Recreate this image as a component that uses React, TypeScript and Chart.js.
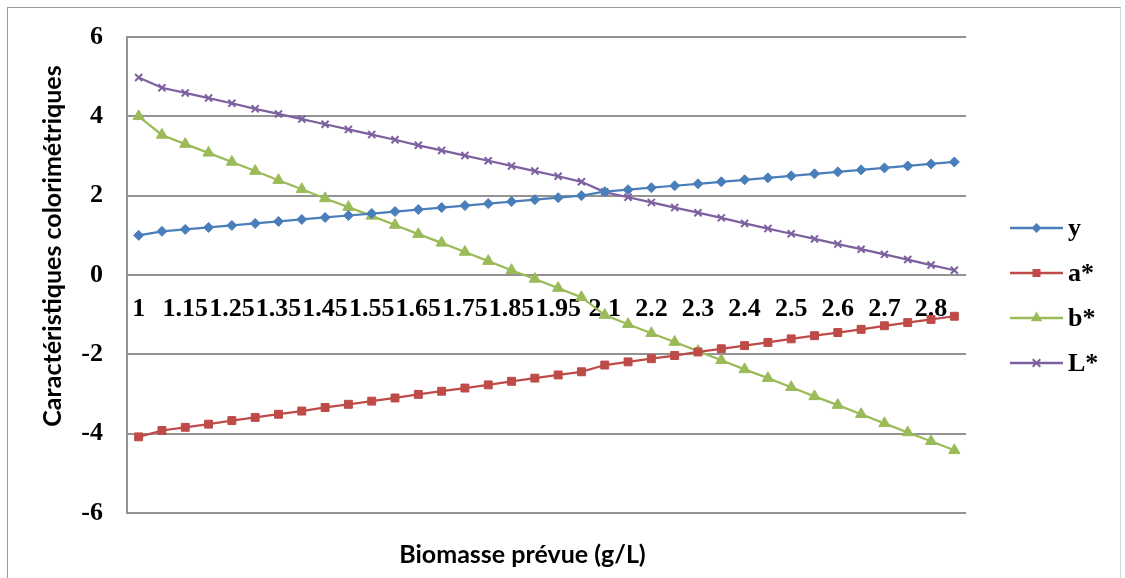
import React, { useEffect, useRef } from 'react';
import { Chart, registerables } from 'chart.js';

Chart.register(...registerables);

// Biomasse prévue (g/L) – category labels
const biomasse = [
  '1', '1.1', '1.15', '1.2', '1.25', '1.3', '1.35', '1.4', '1.45', '1.5',
  '1.55', '1.6', '1.65', '1.7', '1.75', '1.8', '1.85', '1.9', '1.95', '2',
  '2.1', '2.15', '2.2', '2.25', '2.3', '2.35', '2.4', '2.45', '2.5', '2.55',
  '2.6', '2.65', '2.7', '2.75', '2.8', '2.85',
];

const serieY = [
  1, 1.1, 1.15, 1.2, 1.25, 1.3, 1.35, 1.4, 1.45, 1.5,
  1.55, 1.6, 1.65, 1.7, 1.75, 1.8, 1.85, 1.9, 1.95, 2,
  2.1, 2.15, 2.2, 2.25, 2.3, 2.35, 2.4, 2.45, 2.5, 2.55,
  2.6, 2.65, 2.7, 2.75, 2.8, 2.85,
];

const serieA = [
  -4.08, -3.92, -3.84, -3.76, -3.67, -3.59, -3.51, -3.43, -3.34, -3.26,
  -3.18, -3.1, -3.01, -2.93, -2.85, -2.77, -2.68, -2.6, -2.52, -2.44,
  -2.27, -2.19, -2.11, -2.03, -1.94, -1.86, -1.78, -1.7, -1.61, -1.53,
  -1.45, -1.37, -1.28, -1.2, -1.12, -1.04,
];

const serieB = [
  4.0, 3.53, 3.3, 3.08, 2.85, 2.62, 2.39, 2.16, 1.93, 1.71,
  1.49, 1.26, 1.03, 0.81, 0.58, 0.35, 0.12, -0.1, -0.33, -0.56,
  -1.01, -1.24, -1.47, -1.69, -1.92, -2.15, -2.38, -2.6, -2.83, -3.06,
  -3.28, -3.51, -3.74, -3.97, -4.19, -4.42,
];

const serieL = [
  4.98, 4.72, 4.59, 4.46, 4.33, 4.19, 4.06, 3.93, 3.8, 3.67,
  3.54, 3.41, 3.27, 3.14, 3.01, 2.88, 2.75, 2.62, 2.49, 2.35,
  2.09, 1.96, 1.83, 1.7, 1.57, 1.44, 1.3, 1.17, 1.04, 0.91,
  0.78, 0.65, 0.52, 0.39, 0.25, 0.12,
];

const seriesNames = ['y', 'a*', 'b*', 'L*'];
const seriesColors = ['#4A7EBB', '#BE4B48', '#9BBB59', '#7D60A0'];
const seriesMarkers = ['rectRot', 'rect', 'triangle', 'crossRot'];

const yMin = -6;
const yMax = 6;
const yStep = 2;

const xTitle = 'Biomasse prévue (g/L)';
const yTitle = 'Caractéristiques colorimétriques';

const SERIF = "'Liberation Serif', 'Times New Roman', serif";
const SANS = "Lato, 'Open Sans', sans-serif";
const GRID = '#939393';

function drawMarker(ctx: CanvasRenderingContext2D, style: string, x: number, y: number, color: string) {
  ctx.save();
  ctx.fillStyle = color;
  ctx.strokeStyle = color;
  ctx.lineWidth = 2;
  ctx.beginPath();
  if (style === 'rectRot') {
    const r = 5;
    ctx.moveTo(x, y - r);
    ctx.lineTo(x + r, y);
    ctx.lineTo(x, y + r);
    ctx.lineTo(x - r, y);
    ctx.closePath();
    ctx.fill();
  } else if (style === 'rect') {
    const s = 4;
    ctx.rect(x - s, y - s, 2 * s, 2 * s);
    ctx.fill();
  } else if (style === 'triangle') {
    const r = 6.5;
    ctx.moveTo(x, y - r);
    ctx.lineTo(x + r * 0.87, y + r * 0.5);
    ctx.lineTo(x - r * 0.87, y + r * 0.5);
    ctx.closePath();
    ctx.fill();
  } else {
    const r = 3.8;
    ctx.moveTo(x - r, y - r);
    ctx.lineTo(x + r, y + r);
    ctx.moveTo(x + r, y - r);
    ctx.lineTo(x - r, y + r);
    ctx.stroke();
  }
  ctx.restore();
}

// Axis titles and the right-hand legend, placed relative to the chart area
const decorations = {
  id: 'decorations',
  afterDraw(chart: any) {
    const { ctx, chartArea } = chart;
    const midY = (chartArea.top + chartArea.bottom) / 2;
    const midX = (chartArea.left + chartArea.right) / 2;

    ctx.save();
    ctx.fillStyle = '#000';
    ctx.font = `bold 25px ${SANS}`;
    ctx.textAlign = 'center';
    ctx.textBaseline = 'middle';
    ctx.fillText(xTitle, midX - 24, chartArea.bottom + 42);

    ctx.translate(chartArea.left - 74, midY - 29);
    ctx.rotate(-Math.PI / 2);
    ctx.fillText(yTitle, 0, 0);
    ctx.restore();

    // legend
    const x0 = chartArea.right + 44;
    const x1 = chartArea.right + 97;
    const startY = midY - 47;
    ctx.save();
    chart.data.datasets.forEach((ds: any, i: number) => {
      const y = startY + i * 45;
      ctx.strokeStyle = ds.borderColor;
      ctx.lineWidth = 2.5;
      ctx.beginPath();
      ctx.moveTo(x0, y);
      ctx.lineTo(x1, y);
      ctx.stroke();
      drawMarker(ctx, ds.pointStyle, (x0 + x1) / 2, y, ds.borderColor);
      ctx.fillStyle = '#000';
      ctx.font = `bold 26px ${SERIF}`;
      ctx.textAlign = 'left';
      ctx.textBaseline = 'middle';
      ctx.fillText(ds.label, x1 + 5, y + 1);
    });
    ctx.restore();
  },
};

export default function App() {
  const canvasRef = useRef<HTMLCanvasElement | null>(null);

  useEffect(() => {
    const canvas = canvasRef.current;
    if (!canvas) return;
    const values = [serieY, serieA, serieB, serieL];
    const radii = [5, 5.6, 6.5, 5];

    const chart = new Chart(canvas, {
      type: 'line',
      data: {
        labels: biomasse,
        datasets: values.map((v, i) => ({
          label: seriesNames[i],
          data: v,
          borderColor: seriesColors[i],
          backgroundColor: seriesColors[i],
          pointBackgroundColor: seriesColors[i],
          pointBorderColor: seriesColors[i],
          pointStyle: seriesMarkers[i] as any,
          pointRadius: radii[i],
          pointBorderWidth: i === 3 ? 2 : 1,
          borderWidth: 2.25,
          tension: 0,
          fill: false,
        })),
      },
      options: {
        responsive: false,
        animation: false,
        layout: { padding: { left: 0, top: 37, right: 159, bottom: 65 } },
        plugins: {
          legend: { display: false },
          tooltip: { enabled: false },
          title: { display: false },
        },
        scales: {
          x: {
            type: 'category',
            offset: true,
            position: { y: 0 } as any,
            grid: { display: false, drawTicks: false },
            border: { display: false },
            ticks: {
              autoSkip: false,
              maxRotation: 0,
              minRotation: 0,
              padding: 19,
              color: '#000',
              font: { family: SERIF, weight: 'bold', size: 26 },
              callback: (_v: any, i: number) => (i % 2 === 0 ? biomasse[i] : ''),
            },
          },
          y: {
            min: yMin,
            max: yMax,
            ticks: {
              stepSize: yStep,
              padding: 24,
              color: '#000',
              font: { family: SERIF, weight: 'bold', size: 26 },
            },
            grid: { color: GRID, lineWidth: 2, drawTicks: false },
            border: { display: true, color: GRID, width: 2 },
            afterFit: (scale: any) => {
              scale.width = 127;
              // only half a label is needed above/below the plot, not the horizontal tick padding
              scale.paddingTop = 16;
              scale.paddingBottom = 16;
            },
          },
        },
      },
      plugins: [decorations],
    });

    return () => chart.destroy();
  }, []);

  return (
    <div
      style={{
        position: 'fixed',
        left: 0,
        top: 0,
        width: 1125,
        height: 578,
        overflow: 'hidden',
        background: '#fff',
      }}
    >
      <div
        style={{
          position: 'absolute',
          left: 7,
          top: 7,
          width: 1112,
          height: 600,
          borderLeft: '1px solid #9a9a9a',
          borderTop: '1px solid #9a9a9a',
          borderRight: '1px solid #d8d8d8',
        }}
      />
      <canvas
        ref={canvasRef}
        width={1125}
        height={578}
        style={{ position: 'absolute', left: 0, top: 0, width: 1125, height: 578 }}
      />
    </div>
  );
}
